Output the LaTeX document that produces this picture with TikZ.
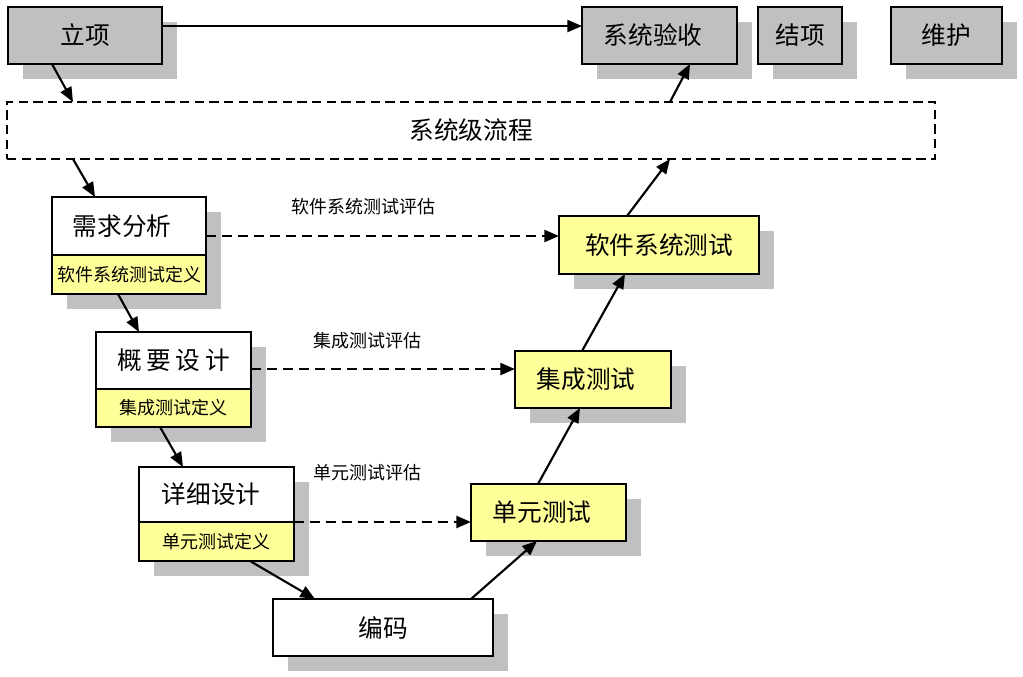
\documentclass[tikz,border=0pt]{standalone}
\usepackage{fontspec}
\setmainfont{Noto Sans CJK SC}
\usetikzlibrary{shadows,arrows.meta}
\definecolor{boxgray}{RGB}{192,192,192}
\definecolor{shadowgray}{RGB}{192,192,192}
\definecolor{paleyellow}{RGB}{255,255,153}
\tikzset{
  base/.style={draw=black, line width=1.3pt, inner sep=0pt, outer sep=0pt, align=center},
  shad/.style={drop shadow={shadow xshift=11.25pt, shadow yshift=-11.25pt, opacity=1, fill=shadowgray}},
  graybox/.style={base, shad, fill=boxgray, font=\fontsize{18.5}{20}\selectfont},
  whitebox/.style={base, shad, fill=white, font=\fontsize{18.5}{20}\selectfont},
  yelbox/.style={base, shad, fill=paleyellow, font=\fontsize{18.5}{20}\selectfont},
  subbox/.style={base, shad, fill=paleyellow, font=\fontsize{13.5}{15}\selectfont},
  flowbox/.style={draw=black, line width=1.2pt, dash pattern=on 7pt off 4pt, inner sep=0pt, outer sep=0pt, font=\fontsize{18.5}{20}\selectfont},
  lbl/.style={font=\fontsize{13.5}{15}\selectfont, inner sep=0pt},
  arr/.style={line width=1.6pt, -{Triangle[length=11pt,width=9pt]}},
  darr/.style={line width=1.7pt, dash pattern=on 7.5pt off 4.5pt, -{Triangle[length=11pt,width=9pt]}}
}
\begin{document}
\begin{tikzpicture}[x=0.75pt,y=-0.75pt]
\useasboundingbox (0,0) rectangle (1023,677);
% top row
\node[graybox, minimum width=115.5pt, minimum height=42.75pt] (lx) at (85,35.5) {立项};
\node[graybox, minimum width=116.25pt, minimum height=42.75pt] (ys) at (659.5,35.5) {系统验收\hspace{9.75pt}};
\node[graybox, minimum width=63pt, minimum height=42.75pt] (jx) at (800,35.5) {结项};
\node[graybox, minimum width=83.25pt, minimum height=42.75pt] (wh) at (946.5,35.5) {维护};
% system flow
\node[flowbox, minimum width=696pt, minimum height=42.75pt] (flow) at (471,130.5) {系统级流程};
% left side
\node[whitebox, minimum width=115.5pt, minimum height=43.5pt] (xq) at (129,226) {需求分析\hspace{10.5pt}};
\node[subbox, minimum width=115.5pt, minimum height=29.25pt] (xqb) at (129,274.5) {软件系统测试定义};
\node[whitebox, minimum width=116.25pt, minimum height=42.75pt] (gy) at (173.5,360.5) {概\hspace{3.5pt}要\hspace{3.5pt}设\hspace{3.5pt}计};
\node[subbox, minimum width=116.25pt, minimum height=28.5pt] (gyb) at (173.5,408) {集成测试定义};
\node[whitebox, minimum width=116.25pt, minimum height=41.25pt] (xx) at (216.5,494.5) {详细设计\hspace{8pt}};
\node[subbox, minimum width=116.25pt, minimum height=29.25pt] (xxb) at (216.5,541.5) {单元测试定义};
% bottom
\node[whitebox, minimum width=165pt, minimum height=42.75pt] (bm) at (383,627.5) {编码};
% right side
\node[yelbox, minimum width=116.25pt, minimum height=42.75pt] (dy) at (548.5,512.5) {单元测试\hspace{9.75pt}};
\node[yelbox, minimum width=117pt, minimum height=42.75pt] (jc) at (593,379.5) {集成测试\hspace{10.5pt}};
\node[yelbox, minimum width=150pt, minimum height=43.5pt] (rj) at (659,245) {软件系统测试};
% labels
\node[lbl] (l1) at (363,207) {软件系统测试评估};
\node[lbl] (l2) at (367,341) {集成测试评估};
\node[lbl] (l3) at (367,473) {单元测试评估};
% arrows
\draw[arr] ([yshift=7.1pt]lx.east) -- ([yshift=7.1pt]ys.west);
\draw[arr] ([xshift=33pt]lx.south west) -- ([xshift=49.5pt]flow.north west);
\draw[arr] ([xshift=49.5pt]flow.south west) -- ([xshift=32.25pt]xq.north west);
\draw[arr] ([xshift=49.5pt]xqb.south west) -- ([xshift=32.25pt]gy.north west);
\draw[arr] ([xshift=48pt]gyb.south west) -- ([xshift=33pt]xx.north west);
\draw[arr] ([xshift=83.25pt]xxb.south west) -- ([xshift=31.5pt]bm.north west);
\draw[arr] ([xshift=148.5pt]bm.north west) -- ([xshift=49.5pt]dy.south west);
\draw[arr] ([xshift=50.25pt]dy.north west) -- ([xshift=48.75pt]jc.south west);
\draw[arr] ([xshift=50.25pt]jc.north west) -- ([xshift=49.5pt]rj.south west);
\draw[arr] ([xshift=51pt]rj.north west) -- ([xshift=497.25pt]flow.south west);
\draw[arr] ([xshift=497.25pt]flow.north west) -- ([xshift=81pt]ys.south west);
% dashed evaluation arrows
\draw[darr] ([yshift=-7.5pt]xq.east) -- ([yshift=-7.5pt]xq.east -| rj.west);
\draw[darr] ([yshift=-6.4pt]gy.east) -- ([yshift=-6.4pt]gy.east -| jc.west);
\draw[darr] (xx.south east) -- (xx.south east -| dy.west);
\end{tikzpicture}
\end{document}
